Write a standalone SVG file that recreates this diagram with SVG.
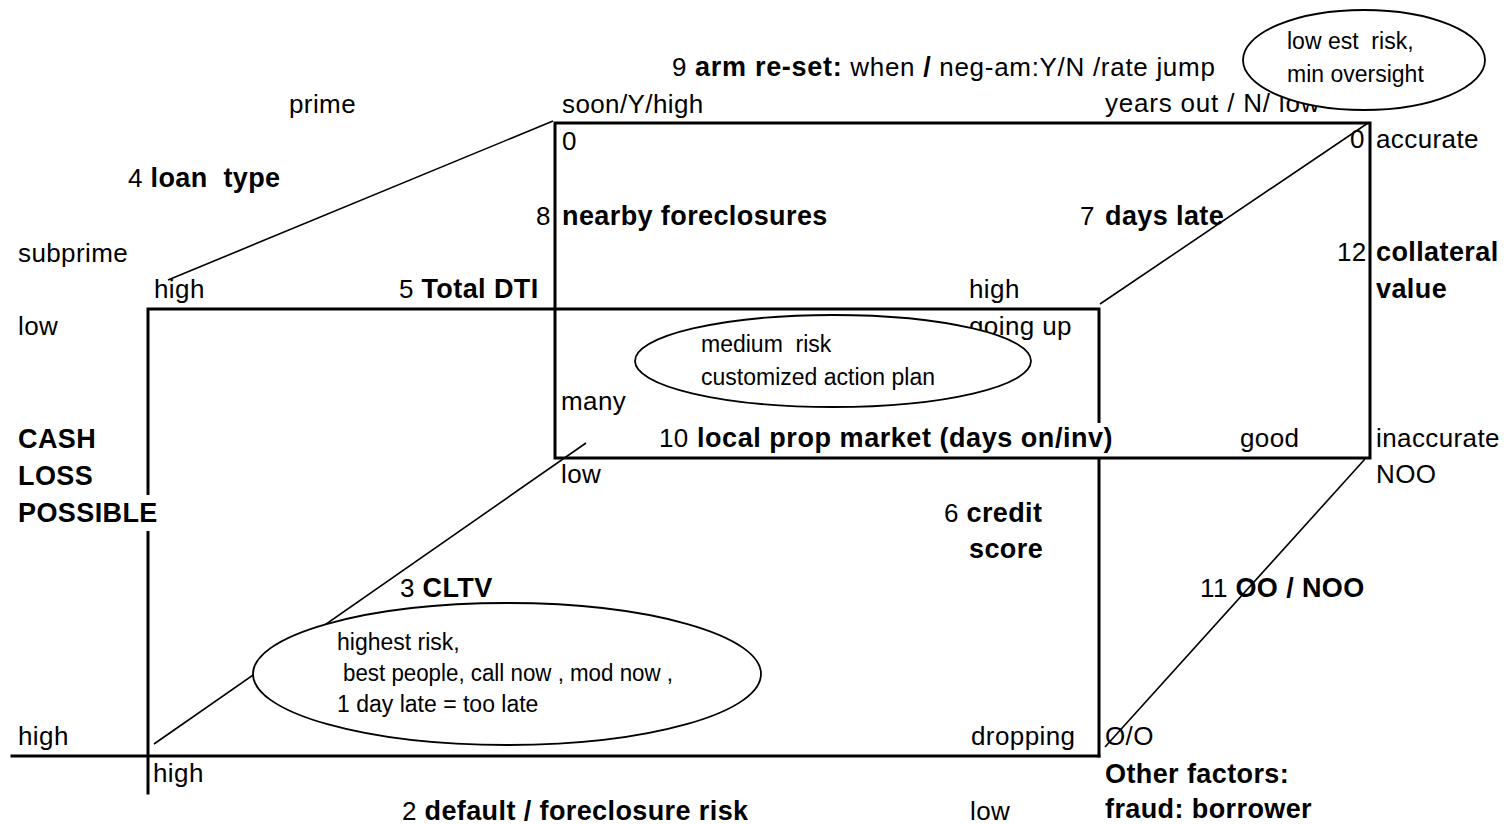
<svg xmlns="http://www.w3.org/2000/svg" width="1506" height="824" viewBox="0 0 1506 824">
  <style>
    text { font-family: "Liberation Sans", Arial, sans-serif; fill: #000; white-space: pre; }
    .t { font-size: 26px; letter-spacing: 0.4px; }
    .b { font-size: 27px; font-weight: bold; letter-spacing: 0.4px; }
    .s { font-size: 23px; }
    .box { fill: none; stroke: #000; stroke-width: 3; stroke-linecap: square; }
    .conn { fill: none; stroke: #000; stroke-width: 1.6; }
    .oval { fill: #fff; stroke: #000; stroke-width: 1.8; }
    .mask { fill: #fff; stroke: none; }
  </style>
  <rect width="1506" height="824" fill="#fff"/>

  <!-- front face of the risk cube, with the default-risk axis -->
  <g id="front-box">
    <path class="box" d="M148 793 V309 H1099 V756"/>
    <path class="box" d="M12 756 H1099"/>
  </g>

  <!-- label backgrounds that cut the box lines -->
  <g id="label-backgrounds">
    <rect class="mask" x="140" y="495" width="20" height="36"/>
    <rect class="mask" x="655" y="423" width="460" height="34"/>
  </g>

  <!-- back face of the risk cube -->
  <g id="back-box">
    <rect class="box" x="555" y="123" width="815" height="335"/>
  </g>

  <!-- axis labels -->
  <g id="labels">
    <text class="t" x="672" y="76" style="letter-spacing:0.7px">9 <tspan class="b" style="letter-spacing:0.7px">arm re-set:</tspan> when <tspan class="b" style="letter-spacing:0.7px">/</tspan> neg-am:Y/N /rate jump</text>
    <text class="t" x="289" y="113">prime</text>
    <text class="t" x="562" y="113">soon/Y/high</text>
    <text class="t" x="1105" y="112" style="letter-spacing:0.8px">years out / N/ low</text>

    <text class="t" x="128" y="187">4 <tspan class="b">loan  type</tspan></text>
    <text class="t" x="562" y="150">0</text>
    <text class="t" x="1350" y="148">0</text>
    <text class="t" x="1376" y="148">accurate</text>

    <text class="t" x="536" y="225">8</text>
    <text class="b" x="562" y="225">nearby foreclosures</text>
    <text class="t" x="1080" y="225">7</text>
    <text class="b" x="1105" y="225">days late</text>

    <text class="t" x="18" y="262">subprime</text>
    <text class="t" x="1337" y="261">12</text>
    <text class="b" x="1376" y="261">collateral</text>
    <text class="b" x="1376" y="298">value</text>

    <text class="t" x="154" y="298">high</text>
    <text class="t" x="399" y="298">5 <tspan class="b">Total DTI</tspan></text>
    <text class="t" x="969" y="298">high</text>

    <text class="t" x="18" y="335">low</text>
    <text class="t" x="969" y="335">going up</text>
    <text class="t" x="561" y="410">many</text>

    <text class="b" x="18" y="448">CASH</text>
    <text class="b" x="18" y="485">LOSS</text>
    <text class="b" x="18" y="522">POSSIBLE</text>

    <text class="t" x="659" y="447">10</text>
    <text class="b" x="697" y="447" textLength="416" lengthAdjust="spacing">local prop market (days on/inv)</text>
    <text class="t" x="1240" y="447">good</text>
    <text class="t" x="1376" y="447">inaccurate</text>
    <text class="t" x="1376" y="483">NOO</text>
    <text class="t" x="561" y="483">low</text>

    <text class="t" x="944" y="522">6 <tspan class="b">credit</tspan></text>
    <text class="b" x="969" y="558">score</text>

    <text class="t" x="400" y="597">3 <tspan class="b">CLTV</tspan></text>
    <text class="t" x="1200" y="597">11 <tspan class="b">OO / NOO</tspan></text>

    <text class="t" x="18" y="745">high</text>
    <text class="t" x="971" y="745">dropping</text>
    <text class="t" x="1105" y="745">O/O</text>
    <text class="t" x="153" y="782">high</text>
    <text class="b" x="1105" y="783">Other factors:</text>
    <text class="t" x="402" y="820">2 <tspan class="b">default / foreclosure risk</tspan></text>
    <text class="t" x="970" y="820">low</text>
    <text class="b" x="1105" y="818">fraud: borrower</text>
  </g>

  <!-- receding edges of the cube -->
  <g id="connectors">
    <line class="conn" x1="168" y1="280" x2="553" y2="121"/>
    <line class="conn" x1="1100" y1="304" x2="1368" y2="123"/>
    <line class="conn" x1="154" y1="744" x2="586" y2="443"/>
    <line class="conn" x1="1365" y1="459" x2="1105" y2="747"/>
  </g>

  <!-- risk zones -->
  <g id="zone-lowest">
    <ellipse class="oval" cx="1364" cy="60" rx="121" ry="50"/>
    <text class="s" x="1287" y="49">low est  risk,</text>
    <text class="s" x="1287" y="82">min oversight</text>
  </g>

  <g id="zone-medium">
    <ellipse class="oval" cx="833" cy="361" rx="198" ry="46"/>
    <text class="s" x="701" y="352">medium  risk</text>
    <text class="s" x="701" y="385">customized action plan</text>
  </g>

  <g id="zone-highest">
    <ellipse class="oval" cx="507" cy="674" rx="254" ry="71"/>
    <text class="s" x="337" y="650">highest risk,</text>
    <text class="s" x="343" y="681" textLength="330" lengthAdjust="spacingAndGlyphs">best people, call now , mod now ,</text>
    <text class="s" x="337" y="712">1 day late = too late</text>
  </g>
</svg>
